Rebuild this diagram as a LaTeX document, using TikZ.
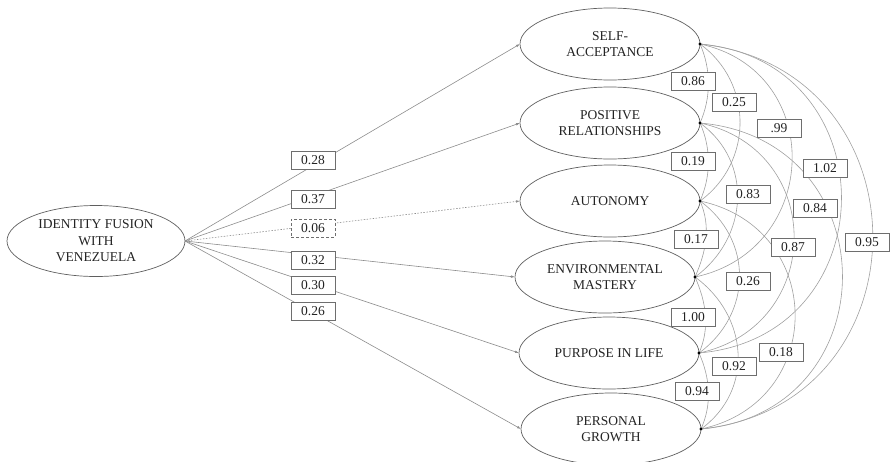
\documentclass[tikz,border=0pt]{standalone}
\usepackage{fontspec}
\setmainfont{Liberation Serif}
\usetikzlibrary{shapes.geometric,arrows.meta}
\definecolor{txt}{RGB}{35,35,35}
\definecolor{edge}{RGB}{95,95,95}
\definecolor{pathc}{RGB}{140,140,140}
\definecolor{arcc}{RGB}{160,160,160}
\definecolor{boxc}{RGB}{110,110,110}
\tikzset{
  lat/.style={ellipse, draw=edge, line width=0.7pt, minimum width=180pt, minimum height=72pt,
    inner sep=0pt, outer sep=0pt, align=center, text=txt, font=\fontsize{13.5}{16.5}\selectfont},
  lbl/.style={rectangle, draw=boxc, line width=0.7pt, fill=white, minimum width=44pt, minimum height=18pt,
    inner sep=0pt, text=txt, font=\fontsize{13.5}{16.5}\selectfont},
  reg/.style={draw=pathc, line width=0.6pt, -{Latex[length=4pt,width=2.6pt]}},
  corr/.style={draw=arcc, line width=0.6pt},
  dot/.style={fill=black}
}
\newcommand{\corrarc}[4]{\draw[corr] (#1.east) .. controls +(-#3:#4pt) and +(#3:#4pt) .. (#2.east);}
\begin{document}
\begin{tikzpicture}[x=1pt,y=-1pt]
\useasboundingbox (0,0) rectangle (890,461);
% latent variables
\node[lat, minimum width=178pt, minimum height=71pt] (fus) at (96,241) {IDENTITY FUSION\\WITH\\VENEZUELA};
\node[lat] (sa)  at (610,44)  {SELF-\\ACCEPTANCE};
\node[lat] (pr)  at (610,123) {POSITIVE\\RELATIONSHIPS};
\node[lat] (au)  at (610,201) {AUTONOMY};
\node[lat] (em)  at (605,277) {ENVIRONMENTAL\\MASTERY};
\node[lat] (pl)  at (609,353) {PURPOSE IN LIFE};
\node[lat] (pg)  at (611,429) {PERSONAL\\GROWTH};
% regression paths
\draw[reg] (fus.east) -- (sa.west);
\draw[reg] (fus.east) -- (pr.west);
\draw[reg, dash pattern=on 1.5pt off 1.5pt] (fus.east) -- (au.west);
\draw[reg] (fus.east) -- (em.west);
\draw[reg] (fus.east) -- (pl.west);
\draw[reg] (fus.east) -- (pg.west);
% correlations
\corrarc{sa}{pr}{66}{27.5}
\corrarc{pr}{au}{66}{27.5}
\corrarc{au}{em}{66}{27.5}
\corrarc{em}{pl}{66}{27.5}
\corrarc{pl}{pg}{66}{27.5}
\corrarc{sa}{au}{36}{66}
\corrarc{pr}{em}{36}{66}
\corrarc{au}{pl}{36}{66}
\corrarc{em}{pg}{36}{66}
\corrarc{sa}{em}{12}{129}
\corrarc{pr}{pl}{12}{129}
\corrarc{au}{pg}{12}{129}
\corrarc{sa}{pl}{5}{190}
\corrarc{pr}{pg}{5}{190}
\corrarc{sa}{pg}{6}{231}
% dots
\foreach \n in {sa,pr,au,em,pl,pg} \fill[dot] (\n.east) circle (1.6pt);
% path labels
\node[lbl] (l1) at (313,160) {0.28};
\node[lbl] (l2) at (313,199.5) {0.37};
\node[lbl, dash pattern=on 3pt off 2pt] (l3) at (313,228) {0.06};
\node[lbl] (l4) at (313,260.5) {0.32};
\node[lbl] (l5) at (313,285) {0.30};
\node[lbl] (l6) at (313,311.5) {0.26};
% correlation labels
\node[lbl] (c1) at (693,81) {0.86};
\node[lbl] (c2) at (734,102) {0.25};
\node[lbl] (c3) at (779,128) {.99};
\node[lbl] (c4) at (825,168) {1.02};
\node[lbl] (c5) at (867,242) {0.95};
\node[lbl] (c6) at (693,161) {0.19};
\node[lbl] (c7) at (748,194) {0.83};
\node[lbl] (c8) at (815,208) {0.84};
\node[lbl] (c9) at (793,247) {0.87};
\node[lbl] (c10) at (696,239) {0.17};
\node[lbl] (c11) at (748,281) {0.26};
\node[lbl] (c12) at (781,352) {0.18};
\node[lbl] (c13) at (693,317) {1.00};
\node[lbl] (c14) at (734,366) {0.92};
\node[lbl] (c15) at (697,391) {0.94};
\end{tikzpicture}
\end{document}
